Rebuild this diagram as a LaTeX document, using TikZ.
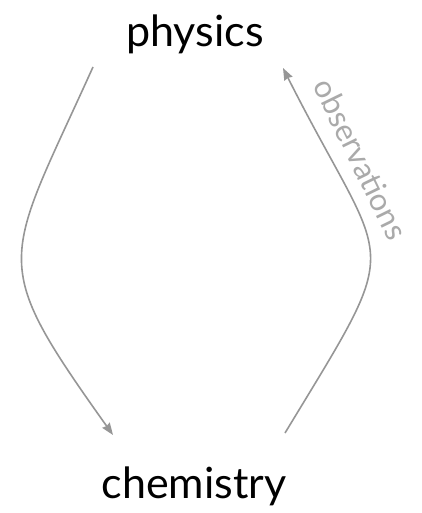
\documentclass[tikz,border=0pt]{standalone}
\usepackage{fontspec}
\setmainfont{Lato}
\usetikzlibrary{arrows.meta}
\definecolor{arrowgray}{RGB}{150,150,150}
\definecolor{labelgray}{RGB}{170,170,170}
\tikzset{
  subject/.style={font=\fontsize{43}{48}\selectfont, text=black, inner sep=0pt},
  flow/.style={draw=arrowgray, line width=1.6pt, -{Stealth[length=12pt,width=9pt,inset=1pt]}},
  flowlabel/.style={font=\fontsize{31}{34}\selectfont, text=labelgray, inner sep=0pt}
}
\begin{document}
\begin{tikzpicture}[x=1pt,y=-1pt]
\useasboundingbox (0,0) rectangle (422,513);
\node[subject, anchor=base] (physics) at (195,47) {physics};
\node[subject, anchor=base] (chemistry) at (194,498) {chemistry};
\coordinate (pout) at (93,67);
\coordinate (cin) at (113,435);
\coordinate (cout) at (285,433);
\coordinate (pin) at (283,68);
\draw[flow] (pout) .. controls (3.6,265) and (-13,258) .. (cin);
\draw[flow] (cout) .. controls (408,230) and (389,278) .. (pin);
\node[flowlabel, rotate=-64] (obs) at (361,159) {observations};
\end{tikzpicture}
\end{document}
